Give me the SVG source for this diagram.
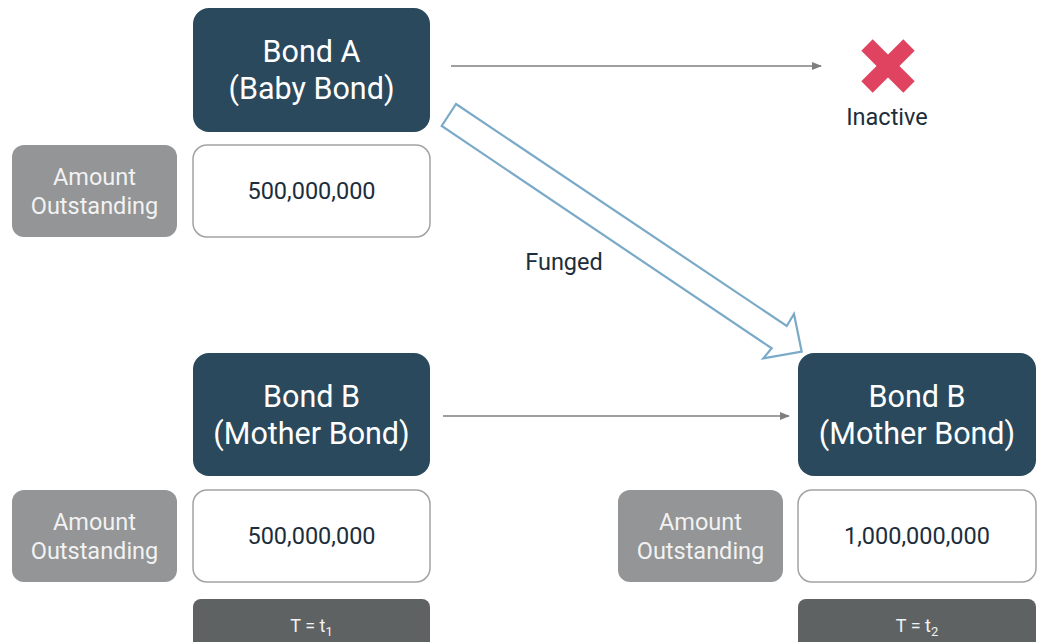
<svg xmlns="http://www.w3.org/2000/svg" width="1046" height="642" viewBox="0 0 1046 642">
<defs>
<style>
.bond{fill:#2a495c;}
.amt{fill:#939596;}
.val{fill:#ffffff;stroke:#a0a3a5;stroke-width:1.5;}
.tbox{fill:#5f6263;}
text{font-family:Roboto,"Liberation Sans",sans-serif;text-anchor:middle;}
.bt{fill:#ffffff;font-size:30.5px;}
.at{fill:#f2f2f2;font-size:23.5px;}
.vt{fill:#1c2e3c;font-size:23.5px;}
.tt{fill:#f2f2f2;font-size:18px;}
.lbl{fill:#1c2e3c;font-size:23.5px;}
.thin{stroke:#7f7f7f;stroke-width:1.3;fill:none;marker-end:url(#ah);}
</style>
<marker id="ah" markerWidth="10" markerHeight="8" refX="9" refY="4" orient="auto" markerUnits="userSpaceOnUse">
<path d="M0,0 L10,4 L0,8 Z" fill="#7f7f7f"/>
</marker>
</defs>
<rect width="1046" height="642" fill="#ffffff"/>

<g id="connectors">
<line class="thin" x1="451" y1="66" x2="821" y2="66"/>
<line class="thin" x1="443" y1="416" x2="789" y2="416"/>
<polygon points="456,104 786.7,326 794,314 801.7,351.7 763.3,358.3 771.7,348.3 441.7,126" fill="#ffffff" stroke="#7aaac8" stroke-width="2.2" stroke-linejoin="miter"/>
<text class="lbl" x="564" y="270">Funged</text>
</g>

<g id="bondA">
<rect class="bond" x="193" y="8" width="237" height="124" rx="16"/>
<text class="bt" x="311.5" y="62">Bond A</text>
<text class="bt" x="311.5" y="99">(Baby Bond)</text>
</g>
<g id="amtA">
<rect class="amt" x="12" y="145" width="165" height="92" rx="12"/>
<text class="at" x="94.5" y="185">Amount</text>
<text class="at" x="94.5" y="214">Outstanding</text>
</g>
<g id="valA">
<rect class="val" x="193" y="145" width="237" height="92" rx="14"/>
<text class="vt" x="311.5" y="199">500,000,000</text>
</g>

<g id="inactive">
<line x1="867" y1="45" x2="909" y2="87" stroke="#e0435f" stroke-width="16"/>
<line x1="909" y1="45" x2="867" y2="87" stroke="#e0435f" stroke-width="16"/>
<text class="lbl" x="887" y="125">Inactive</text>
</g>

<g id="bondB1">
<rect class="bond" x="193" y="353" width="237" height="123" rx="16"/>
<text class="bt" x="311.5" y="407">Bond B</text>
<text class="bt" x="311.5" y="444">(Mother Bond)</text>
</g>
<g id="amtB1">
<rect class="amt" x="12" y="490" width="165" height="92" rx="12"/>
<text class="at" x="94.5" y="530">Amount</text>
<text class="at" x="94.5" y="559">Outstanding</text>
</g>
<g id="valB1">
<rect class="val" x="193" y="490" width="237" height="92" rx="14"/>
<text class="vt" x="311.5" y="544">500,000,000</text>
</g>
<g id="t1">
<rect class="tbox" x="193" y="599" width="237" height="60" rx="8"/>
<text class="tt" x="311.5" y="632">T = t<tspan font-size="13" dy="4">1</tspan></text>
</g>

<g id="bondB2">
<rect class="bond" x="798" y="353" width="238" height="123" rx="16"/>
<text class="bt" x="917" y="407">Bond B</text>
<text class="bt" x="917" y="444">(Mother Bond)</text>
</g>
<g id="amtB2">
<rect class="amt" x="618" y="490" width="165" height="92" rx="12"/>
<text class="at" x="700.5" y="530">Amount</text>
<text class="at" x="700.5" y="559">Outstanding</text>
</g>
<g id="valB2">
<rect class="val" x="798" y="490" width="238" height="92" rx="14"/>
<text class="vt" x="917" y="544">1,000,000,000</text>
</g>
<g id="t2">
<rect class="tbox" x="798" y="599" width="238" height="60" rx="8"/>
<text class="tt" x="917" y="632">T = t<tspan font-size="13" dy="4">2</tspan></text>
</g>
</svg>
